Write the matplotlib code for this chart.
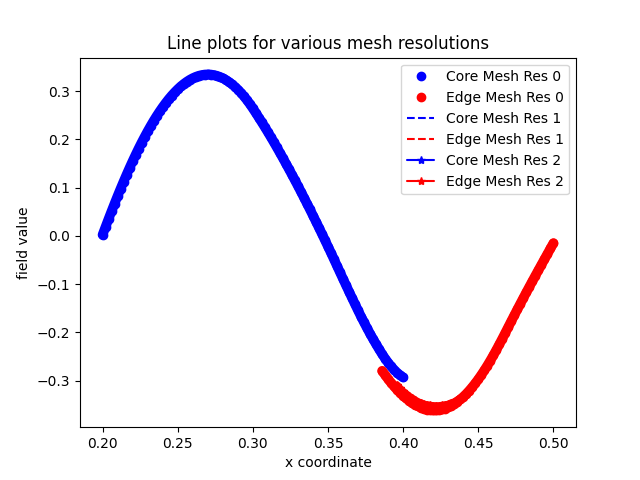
import numpy as np
import matplotlib
matplotlib.use('Agg')
import matplotlib.pyplot as plt

# sample points along the line (mesh nodes), spacing 0.002
core_x = np.linspace(0.2, 0.4, 101)
edge_x = np.linspace(0.386, 0.5, 58)
edge2_x = np.linspace(0.396, 0.5, 53)

# field values
core_y = [0.002, 0.0185, 0.0349, 0.0510, 0.0668, 0.0824, 0.0976, 0.1124, 0.1269, 0.1410,
          0.1547, 0.1680, 0.1809, 0.1933, 0.2052, 0.2167, 0.2277, 0.2383, 0.2483, 0.2578,
          0.2668, 0.2753, 0.2833, 0.2907, 0.2975, 0.3038, 0.3096, 0.3147, 0.3193, 0.3233,
          0.3267, 0.3295, 0.3317, 0.3332, 0.3342, 0.3345,
          0.3342, 0.3332, 0.3317, 0.3295, 0.3267, 0.3232, 0.3191, 0.3144, 0.3091, 0.3032,
          0.2966, 0.2894, 0.2815, 0.2731, 0.2640, 0.2545, 0.2448, 0.2350, 0.2250, 0.2148,
          0.2044, 0.1938, 0.1830, 0.1721, 0.1610, 0.1497, 0.1383, 0.1268, 0.1151, 0.1033,
          0.0913, 0.0792, 0.0669, 0.0545, 0.0420, 0.0294, 0.0166, 0.0038,
          -0.0092, -0.0223, -0.0355, -0.0489, -0.0624, -0.0759, -0.0893, -0.1026, -0.1158,
          -0.1289, -0.1419, -0.1548, -0.1674, -0.1796, -0.1915, -0.2030, -0.2141, -0.2248,
          -0.2352, -0.2452, -0.2544, -0.2629, -0.2707, -0.2777, -0.2838, -0.2891, -0.2935]

edge_y = [-0.2799, -0.2886, -0.2970, -0.3049, -0.3123, -0.3193, -0.3257, -0.3317, -0.3371,
          -0.3420, -0.3464, -0.3503, -0.3536, -0.3564, -0.3586, -0.3603, -0.3614, -0.3619,
          -0.3619, -0.3613, -0.3600, -0.3581, -0.3556, -0.3524, -0.3487, -0.3443, -0.3393,
          -0.3337, -0.3276, -0.3208, -0.3135, -0.3056, -0.2973, -0.2883, -0.2789, -0.2690,
          -0.2586,
          -0.2478, -0.2365, -0.2249, -0.2130, -0.2009, -0.1887, -0.1765, -0.1644, -0.1524,
          -0.1405, -0.1287, -0.1170, -0.1054, -0.0939, -0.0825, -0.0712, -0.0599, -0.0487,
          -0.0375, -0.0263, -0.0152]

edge2_y = [-0.309, -0.316, -0.322, -0.327, -0.332, -0.336, -0.340, -0.344, -0.346, -0.349,
           -0.350, -0.351, -0.352, -0.352, -0.352, -0.351, -0.350, -0.349, -0.346, -0.344,
           -0.340, -0.336, -0.332, -0.327,
           -0.3208, -0.3135, -0.3056, -0.2973, -0.2883, -0.2789, -0.2690, -0.2586,
           -0.2478, -0.2365, -0.2249, -0.2130, -0.2009, -0.1887, -0.1765, -0.1644, -0.1524,
           -0.1405, -0.1287, -0.1170, -0.1054, -0.0939, -0.0825, -0.0712, -0.0599, -0.0487,
           -0.0375, -0.0263, -0.0152]

fig, ax = plt.subplots(figsize=(6.4, 4.8), dpi=100)

# the mesh nodes are packed so tight the dots merge into a band; a fat line
# through them stands in for that
band = dict(solid_capstyle='round', solid_joinstyle='round')
ax.plot(core_x, core_y, 'bo-', lw=7, label='Core Mesh Res 0', **band)
ax.plot(edge_x, edge_y, 'ro-', lw=7, label='Edge Mesh Res 0', **band)
ax.plot(core_x, core_y, 'b--', label='Core Mesh Res 1')
ax.plot(edge_x, edge_y, 'r--', label='Edge Mesh Res 1')
ax.plot(core_x, core_y, 'b*-', lw=5, label='Core Mesh Res 2', **band)
ax.plot(edge2_x, edge2_y, 'r*-', lw=5, label='Edge Mesh Res 2', **band)

ax.set_title('Line plots for various mesh resolutions')
ax.set_xlabel('x coordinate')
ax.set_ylabel('field value')
leg = ax.legend()
hl = leg.get_lines()
for h in hl[:2]:
    h.set_linestyle('None')     # markers only in the key
for h in hl[4:]:
    h.set_linewidth(1.5)

fig.savefig('out.png')
